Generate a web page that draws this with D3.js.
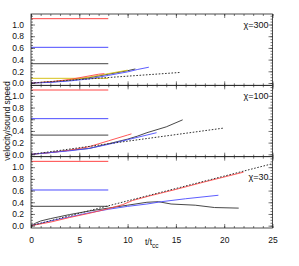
<!DOCTYPE html>
<html>
<head>
<meta charset="utf-8">
<script src="https://cdn.jsdelivr.net/npm/d3@7"></script>
<style>
  html, body { margin: 0; padding: 0; background: #fff; }
  text { font-family: "Liberation Sans", Arial, sans-serif; }
</style>
</head>
<body>
<div id="chart"></div>
<script>
// panel labels, top to bottom
const chiLabels = ["χ=300", "χ=100", "χ=30"];

// horizontal reference levels (drawn from t=0 to t=8)
const refEnd = 8;
const refRed = 1.1;
const refBlue = 0.61;
const refGray = 0.33;
const refYellow300 = 0.08;

// chi = 300
const black300 = [[0,0],[2,0.015],[4,0.045],[6,0.09],[8,0.15],[10,0.21],[10.8,0.24]];
const yellow300 = [[0,0],[2,0.02],[4,0.05],[6,0.1],[8,0.16],[10,0.22]];
const red300 = [[0,0],[2,0.02],[4,0.06],[6,0.12],[7,0.15],[7.6,0.16]];
const blue300 = [[0,0],[2,0.01],[4,0.035],[6,0.07],[8,0.13],[10,0.19],[11,0.23],[12.2,0.27]];
const dot300 = [[0,0],[15.4,0.18]];

// chi = 100
const black100 = [[0,0],[2,0.03],[4,0.07],[6,0.1],[8,0.18],[10,0.26],[11,0.31],[12,0.37],[14,0.47],[15.7,0.59]];
const red100 = [[0,0],[2,0.03],[4,0.07],[6,0.13],[8,0.23],[10,0.33],[10.4,0.35]];
const blue100 = [[0,0],[2,0.03],[4,0.06],[6,0.1],[8,0.17],[10,0.25],[12,0.33],[13,0.37]];
const dot100 = [[0,0],[20,0.45]];

// chi = 30
const black30 = [[0,0],[0.5,0.045],[1,0.08],[2,0.12],[4,0.19],[6,0.25],[8,0.3],[10,0.35],[12,0.4],[13.2,0.41],[14.5,0.37],[17,0.35],[19,0.31],[21.5,0.3]];
const blue30 = [[0,0],[1,0.04],[2,0.08],[4,0.15],[6,0.22],[8,0.28],[10,0.33],[12,0.37],[13.5,0.41],[16,0.46],[19.4,0.52]];
const red30 = [[0,0],[2,0.06],[4,0.14],[6,0.21],[8,0.29],[9.5,0.36],[10.5,0.43],[12.3,0.51],[15,0.62],[18,0.75],[22,0.915]];
const dot30 = [[0,0],[25,1.06]];

const xTicks = [0, 5, 10, 15, 20, 25];
const yTicks = [0, 0.2, 0.4, 0.6, 0.8, 1.0];

const width = 299, height = 266;
const marginLeft = 31, marginRight = 26.5, marginTop = 14, marginBottom = 38;
const panelH = (height - marginTop - marginBottom) / 3;

const colRed = "#ff4545", colBlue = "#4b4bff", colGray = "#6a6a6a", colBlack = "#333", colYellow = "#d6c21c";

const panels = [
  { label: chiLabels[0], lines: [
      {d: black300, c: colBlack}, {d: yellow300, c: colYellow}, {d: red300, c: colRed},
      {d: blue300, c: colBlue}, {d: dot300, c: colBlack, dash: true}],
    refs: [{v: refRed, c: colRed}, {v: refBlue, c: colBlue}, {v: refGray, c: colGray}, {v: refYellow300, c: colYellow}] },
  { label: chiLabels[1], lines: [
      {d: black100, c: colBlack}, {d: red100, c: colRed}, {d: blue100, c: colBlue},
      {d: dot100, c: colBlack, dash: true}],
    refs: [{v: refRed, c: colRed}, {v: refBlue, c: colBlue}, {v: refGray, c: colGray}] },
  { label: chiLabels[2], lines: [
      {d: black30, c: colBlack}, {d: blue30, c: colBlue}, {d: red30, c: colRed},
      {d: dot30, c: colBlack, dash: true}],
    refs: [{v: refRed, c: colRed}, {v: refBlue, c: colBlue}, {v: refGray, c: colGray}] }
];

const x = d3.scaleLinear().domain([0, 25]).range([marginLeft, width - marginRight]);

const svg = d3.select("#chart").append("svg")
  .attr("width", width).attr("height", height);

const minorY = d3.range(0, 1.18, 0.05);
const minorX = d3.range(0, 26, 1);

panels.forEach((p, i) => {
  const top = marginTop + i * panelH;
  const y = d3.scaleLinear().domain([-0.04, 1.18]).range([top + panelH, top]);
  const g = svg.append("g");

  // reference levels
  p.refs.forEach(r => {
    g.append("line")
      .attr("x1", x(0)).attr("x2", x(refEnd))
      .attr("y1", y(r.v)).attr("y2", y(r.v))
      .attr("stroke", r.c).attr("stroke-width", r.c === colGray ? 1.3 : 1);
  });

  const line = d3.line().x(d => x(d[0])).y(d => y(d[1]));
  p.lines.forEach(l => {
    g.append("path").datum(l.d)
      .attr("d", line)
      .attr("fill", "none")
      .attr("stroke", l.c)
      .attr("stroke-width", l.dash ? 1 : 0.9)
      .attr("stroke-dasharray", l.dash ? "1.6,1.6" : null);
  });

  // axes: ticks point inward
  g.append("g").attr("transform", `translate(${marginLeft},0)`)
    .call(d3.axisLeft(y).tickValues(yTicks).tickFormat(d3.format(".1f")).tickSize(-4).tickPadding(7));
  g.append("g").attr("transform", `translate(${marginLeft},0)`)
    .call(d3.axisLeft(y).tickValues(minorY).tickFormat("").tickSize(-2));
  g.append("g").attr("transform", `translate(${width - marginRight},0)`)
    .call(d3.axisRight(y).tickValues(yTicks).tickFormat("").tickSize(-4));
  g.append("g").attr("transform", `translate(${width - marginRight},0)`)
    .call(d3.axisRight(y).tickValues(minorY).tickFormat("").tickSize(-2));

  g.append("g").attr("transform", `translate(0,${top + panelH})`)
    .call(d3.axisBottom(x).tickValues(xTicks).tickSize(-4).tickPadding(9)
      .tickFormat(i === 2 ? d3.format("d") : ""));
  g.append("g").attr("transform", `translate(0,${top + panelH})`)
    .call(d3.axisBottom(x).tickValues(minorX).tickFormat("").tickSize(-2));
  g.append("g").attr("transform", `translate(0,${top})`)
    .call(d3.axisTop(x).tickValues(xTicks).tickFormat("").tickSize(-4));
  g.append("g").attr("transform", `translate(0,${top})`)
    .call(d3.axisTop(x).tickValues(minorX).tickFormat("").tickSize(-2));

  g.selectAll(".domain").remove();
  g.selectAll(".tick line").attr("stroke", "#222").attr("stroke-width", 0.6);
  g.selectAll(".tick text").attr("font-size", 8.5).attr("fill", "#111")
    .style("font-family", "'Liberation Sans', Arial, sans-serif");

  g.append("rect")
    .attr("x", marginLeft).attr("y", top)
    .attr("width", width - marginLeft - marginRight).attr("height", panelH)
    .attr("fill", "none").attr("stroke", "#222").attr("stroke-width", 0.8);

  g.append("text")
    .attr("x", width - marginRight - 4)
    .attr("y", top + (i === 2 ? 23 : 14))
    .attr("text-anchor", "end")
    .attr("font-size", 9)
    .attr("fill", "#111")
    .text(p.label);
});

// axis titles
svg.append("text")
  .attr("transform", `translate(10,${marginTop + 1.5 * panelH}) rotate(-90)`)
  .attr("text-anchor", "middle")
  .attr("font-size", 8.5)
  .attr("fill", "#111")
  .text("velocity/sound speed");

const xt = svg.append("text")
  .attr("x", x(12.5)).attr("y", height - 21)
  .attr("text-anchor", "middle")
  .attr("font-size", 8.5)
  .attr("fill", "#111");
xt.append("tspan").text("t/t");
xt.append("tspan").attr("dy", 2.5).attr("font-size", 6.5).text("cc");
</script>
</body>
</html>
